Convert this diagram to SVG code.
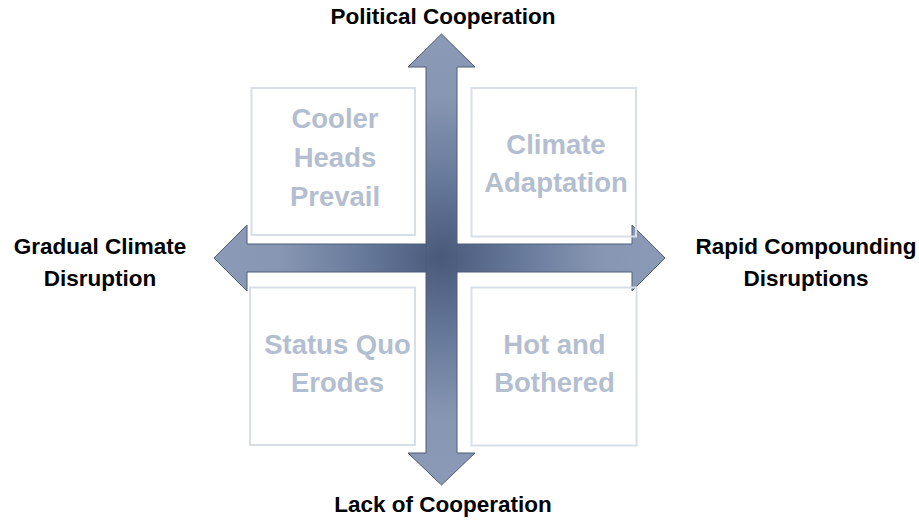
<svg xmlns="http://www.w3.org/2000/svg" width="919" height="521" viewBox="0 0 919 521">
<defs>
<radialGradient id="g" gradientUnits="userSpaceOnUse" cx="441.5" cy="258" r="230">
<stop offset="0" stop-color="#48597a"/>
<stop offset="0.35" stop-color="#687a9b"/>
<stop offset="0.7" stop-color="#8797b3"/>
<stop offset="1" stop-color="#8b9bb7"/>
</radialGradient>
<style>
.arrow{fill:url(#g);stroke:#4e5c76;stroke-width:1}
.box{fill:none;stroke:#d8dee8;stroke-width:2}
.bt{font-family:"Liberation Sans",Arial,sans-serif;font-weight:bold;font-size:27.5px;fill:#b3bed0;text-anchor:middle}
.lbl{font-family:"Liberation Sans",Arial,sans-serif;font-weight:bold;font-size:22.5px;fill:#000;text-anchor:middle}
</style>
</defs>
<rect width="919" height="521" fill="#fff"/>
<g id="connectors">
<polygon id="h-arrow" class="arrow" points="214,258 247,225 247,244 632,244 632,225 665,258 632,291 632,272 247,272 247,291"/>
<polygon id="v-arrow" class="arrow" points="441.5,34 475,67 457,67 457,453 475,453 441.5,485 408,453 426,453 426,67 408,67"/>
</g>
<g id="q1"><rect class="box" x="251.5" y="88" width="163.5" height="147"/>
<text class="bt" x="335" y="128">Cooler</text><text class="bt" x="335" y="167">Heads</text><text class="bt" x="335" y="206">Prevail</text></g>
<g id="q2"><rect class="box" x="471.5" y="88" width="164.5" height="148.5"/>
<text class="bt" x="556" y="154">Climate</text><text class="bt" x="556" y="192">Adaptation</text></g>
<g id="q3"><rect class="box" x="250" y="287.5" width="165" height="157.5"/>
<text class="bt" x="337.5" y="354">Status Quo</text><text class="bt" x="337.5" y="392">Erodes</text></g>
<g id="q4"><rect class="box" x="471.5" y="287.5" width="165" height="158"/>
<text class="bt" x="554.5" y="354">Hot and</text><text class="bt" x="554.5" y="392">Bothered</text></g>
<g id="top-label"><text class="lbl" x="443" y="24">Political Cooperation</text></g>
<g id="bottom-label"><text class="lbl" x="443" y="512">Lack of Cooperation</text></g>
<g id="left-label"><text class="lbl" x="100" y="254">Gradual Climate</text><text class="lbl" x="100" y="286">Disruption</text></g>
<g id="right-label"><text class="lbl" x="806" y="254">Rapid Compounding</text><text class="lbl" x="806" y="286">Disruptions</text></g>
</svg>
